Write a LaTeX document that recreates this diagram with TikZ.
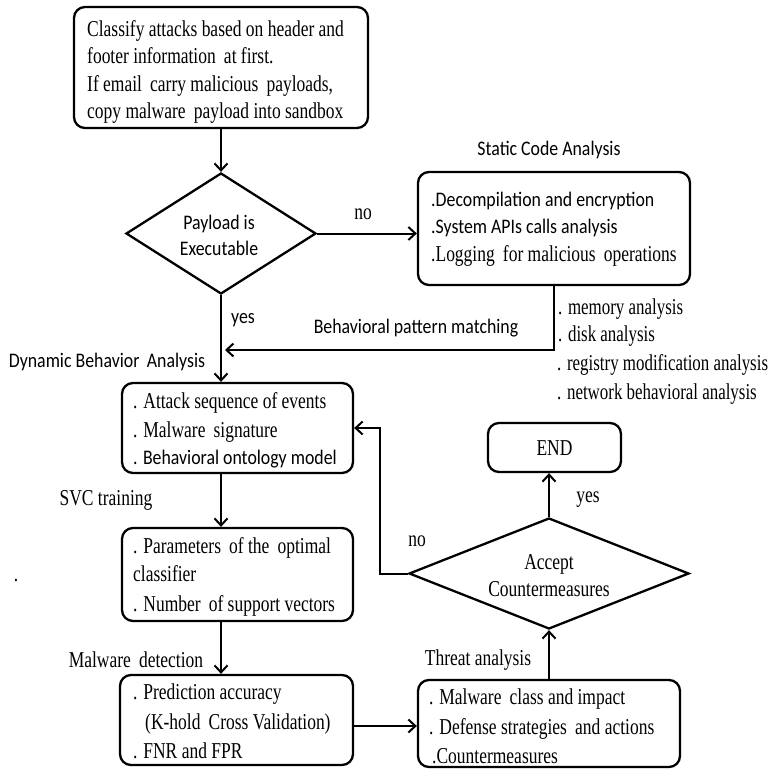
\documentclass[tikz,border=0pt]{standalone}
\usepackage{fontspec}
\setmainfont{Liberation Serif}
\newfontfamily\myserif[FakeStretch=0.77]{Liberation Serif}
\newfontfamily\myserifL[FakeStretch=0.745]{Liberation Serif}
\newfontfamily\mysans[FakeStretch=0.86]{Carlito}
\usetikzlibrary{shapes.geometric,arrows.meta}
\newcommand\fs{\myserif\fontsize{22.7}{27}\selectfont}
\newcommand\fl{\myserifL\fontsize{22.7}{27}\selectfont}
\newcommand\fc{\mysans\fontsize{20.7}{26}\selectfont}
\begin{document}
\begin{tikzpicture}[x=1pt,y=-1pt,
  box/.style={draw, line width=2.3pt, rounded corners=11pt, inner sep=0},
  dia/.style={draw, diamond, aspect=1, inner sep=0, line width=2.3pt},
  arr/.style={line width=2pt, -{Straight Barb[length=7pt,width=13pt]}},
  ts/.style={anchor=base west, inner sep=0, font=\fs},
  tl/.style={anchor=base west, inner sep=0, font=\fl},
  tc/.style={anchor=base west, inner sep=0, font=\fc},
  ls/.style={inner sep=0, font=\fs},
  lc/.style={inner sep=0, font=\fc}]
\useasboundingbox (0,0) rectangle (772,769);

% boxes
\node[box, minimum width=294, minimum height=121] (b1) at (221,67.5) {};
\node[dia, minimum width=190, minimum height=121] (d1) at (221,233.5) {};
\node[box, minimum width=272, minimum height=113] (sca) at (554,228.5) {};
\node[box, minimum width=231, minimum height=90] (b3) at (237.5,428) {};
\node[box, minimum width=231, minimum height=93] (b4) at (237.5,574.5) {};
\node[box, minimum width=233, minimum height=90] (b5) at (236.5,720) {};
\node[box, minimum width=262, minimum height=87] (b6) at (549,723.5) {};
\node[dia, minimum width=280, minimum height=111] (d2) at (549,573.5) {};
\node[box, minimum width=133, minimum height=49] (end) at (554.5,447.5) {};

% box texts
\node[ts] (t11) at (87,36) {Classify attacks based on header and};
\node[ts] (t12) at (87,63) {footer information\, at first.};
\node[ts] (t13) at (87,91) {If email\, carry malicious\, payloads,};
\node[ts] (t14) at (87,118) {copy malware\, payload into sandbox};

\node[lc, align=center] (td1) at (219,235) {Payload is\\Executable};

\node[lc] (tsca) at (549,150) {Static Code Analysis};
\node[tc] (t21) at (431,206) {.Decompilation and encryption};
\node[tc] (t22) at (431,233) {.System APIs calls analysis};
\node[ts] (t23) at (431,261) {.Logging\, for malicious\, operations};

\node[ts] (t31) at (133,408) {. Attack sequence of events};
\node[ts] (t32) at (133,437) {. Malware\, signature};
\node[tc] (t33) at (133,464) {. Behavioral ontology model};

\node[ts] (t41) at (133,553) {. Parameters\, of the\, optimal};
\node[ts] (t42) at (133,581) {classifier};
\node[ts] (t43) at (133,611) {. Number\, of support vectors};

\node[ts] (t51) at (133,699) {. Prediction accuracy};
\node[ts] (t52) at (145,729) {(K-hold\, Cross Validation)};
\node[ts] (t53) at (133,758) {. FNR and FPR};

\node[ts] (t61) at (429,704) {. Malware\, class and impact};
\node[ts] (t62) at (429,734) {. Defense strategies\, and actions};
\node[ts] (t63) at (432,763) {.Countermeasures};

\node[ls] (tend) at (554.5,448) {END};
\node[ls, align=center] (td2) at (549,576) {Accept\\Countermeasures};

% labels
\node[ls] (no1) at (363,214) {no};
\node[lc] (yes1) at (243,320) {yes};
\node[lc] (bpmt) at (416,328) {Behavioral pattern matching};
\node[lc] (dba) at (107,362) {Dynamic Behavior\, Analysis};
\node[tl] (m1) at (558,314) {. memory analysis};
\node[tl] (m2) at (558,341) {. disk analysis};
\node[tl] (m3) at (557,370) {. registry modification analysis};
\node[tl] (m4) at (557,399) {. network behavioral analysis};
\node[ls] (svc) at (106,500) {SVC training};
\node[ls] (mdet) at (136,660) {Malware\, detection};
\node[ls] (thr) at (478,660) {Threat analysis};
\node[ls] (yes2) at (588,500) {yes};
\node[ls] (no2) at (417,541) {no};
\node[ls] (dot) at (16,580) {.};

% connectors
\coordinate (bpm) at (225,350);
\coordinate (c56) at (b5.east |- 0,726);
\draw[arr] (b1.south) -- (d1.north);
\draw[arr] (d1.east) -- (d1.east -| sca.west);
\draw[arr] (d1.south) -- (d1.south |- b3.north);
\draw[arr] (sca.south) |- (bpm);
\draw[arr] (b3.south -| d1.south) -- (b4.north -| d1.south);
\draw[arr] (b4.south -| d1.south) -- (b5.north -| d1.south);
\draw[arr] (c56) -- (c56 -| b6.west);
\draw[arr] (b6.north) -- (d2.south);
\draw[arr] (d2.north) -- (d2.north |- end.south);
\draw[arr] (d2.west) -- ++(-28,0) |- (b3.east);
\end{tikzpicture}
\end{document}
